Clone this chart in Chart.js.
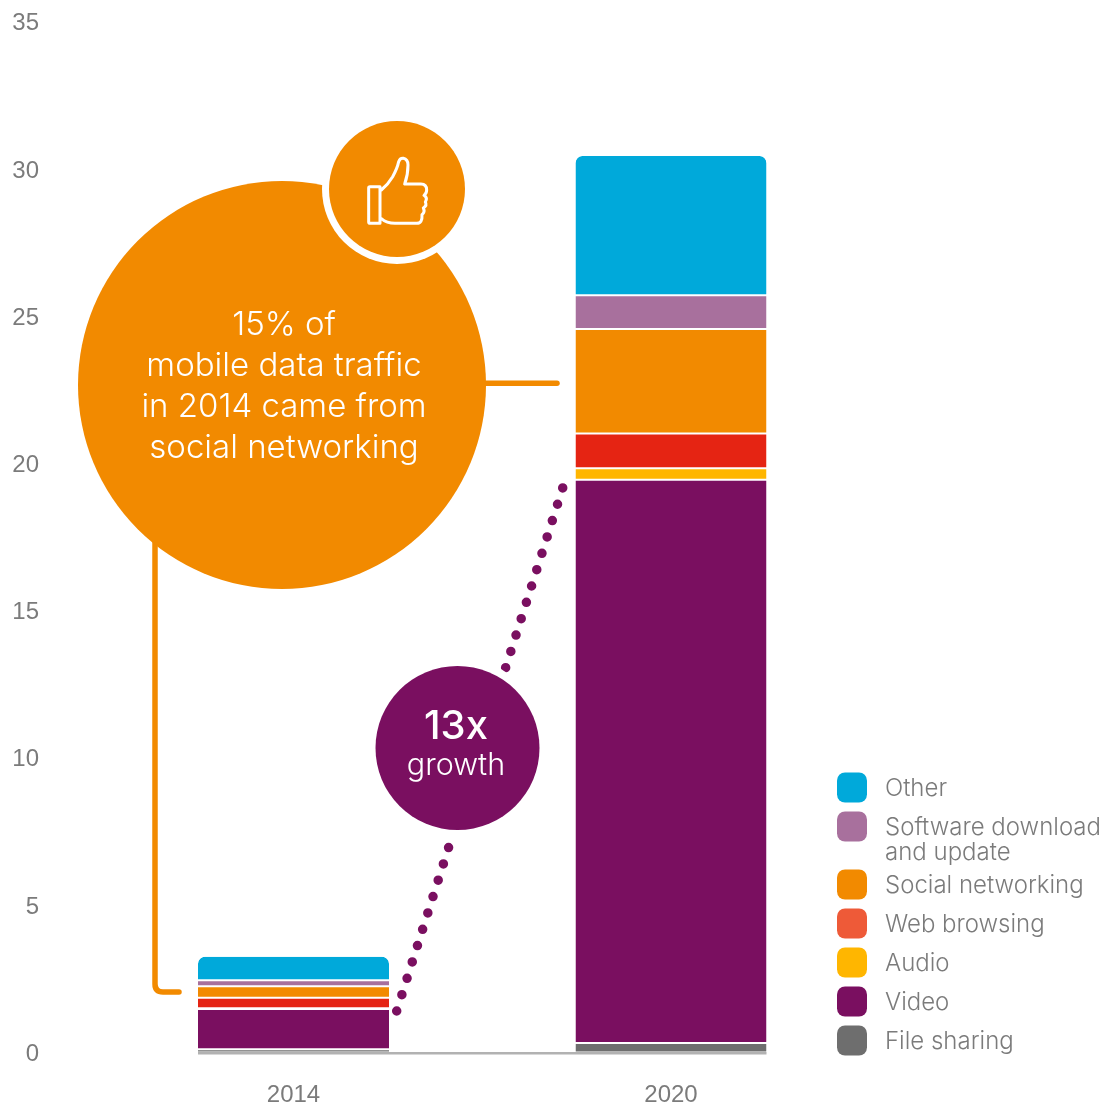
<!DOCTYPE html>
<html>
<head>
<meta charset="utf-8">
<title>Mobile data traffic by application</title>
<script src="https://cdn.jsdelivr.net/npm/chart.js@4/dist/chart.umd.min.js"></script>
<style>
  html, body { margin: 0; padding: 0; background: #fff; }
  canvas { display: block; }
</style>
</head>
<body>
<canvas id="traffic" width="1118" height="1108"></canvas>
<script>
// Monthly mobile data traffic by application type
const years = ['2014', '2020'];
const fileSharing = [0.11, 0.32];
const video       = [1.37, 19.13];
const audio       = [0.02, 0.39];
const webBrowsing = [0.36, 1.18];
const social      = [0.39, 3.55];
const software    = [0.20, 1.15];
const other       = [0.80, 4.73];
const yTicks = [0, 5, 10, 15, 20, 25, 30, 35];

const FONT = '"Liberation Sans", Arial, sans-serif';
const LIGHT_FONT = 'Inter, "Liberation Sans", sans-serif';
const GREY_TEXT = '#7b7b7b';
const ORANGE = '#f28a00';
const PURPLE = '#7a0f60';

function segment(label, data, color, swatch, isTop) {
  return {
    label, data, swatch,
    backgroundColor: color,
    borderColor: '#ffffff',
    borderWidth: { top: isTop ? 0 : 1, bottom: 1, left: 0, right: 0 },
    borderSkipped: false,
    borderRadius: isTop ? { topLeft: 7, topRight: 7, bottomLeft: 0, bottomRight: 0 } : 0,
    stack: 'traffic',
    categoryPercentage: 1,
    barPercentage: 0.506
  };
}

const datasets = [
  segment('File sharing', fileSharing, '#6e6e6e', '#6e6e6e'),
  segment('Video', video, PURPLE, PURPLE),
  segment('Audio', audio, '#ffb600', '#ffb600'),
  segment('Web browsing', webBrowsing, '#e52413', '#ee5a38'),
  segment('Social networking', social, ORANGE, ORANGE),
  segment('Software download\nand update', software, '#a8709d', '#a8709d'),
  segment('Other', other, '#00a9da', '#00a9da', true)
];

function roundedSquare(ctx, x, y, size, radius) {
  ctx.beginPath();
  ctx.roundRect(x, y, size, size, radius);
  ctx.fill();
}

function disc(ctx, x, y, r, color) {
  ctx.fillStyle = color;
  ctx.beginPath();
  ctx.arc(x, y, r, 0, Math.PI * 2);
  ctx.fill();
}

const callouts = {
  id: 'callouts',
  afterDatasetsDraw(chart) {
    const { ctx, scales: { y } } = chart;
    const bars = chart.getDatasetMeta(0).data;
    const halfBar = bars[0].width / 2;
    ctx.save();

    // Baseline running under both columns
    ctx.strokeStyle = '#b2b2b2';
    ctx.lineWidth = 2.6;
    ctx.beginPath();
    ctx.moveTo(bars[0].x - halfBar, y.getPixelForValue(0) + 0.8);
    ctx.lineTo(bars[1].x + halfBar, y.getPixelForValue(0) + 0.8);
    ctx.stroke();

    // Dotted growth line between the two columns
    ctx.strokeStyle = PURPLE;
    ctx.lineWidth = 9.5;
    ctx.lineCap = 'round';
    ctx.setLineDash([0, 17.15]);
    ctx.beginPath();
    ctx.moveTo(396.7, 1011);
    ctx.lineTo(563, 487);
    ctx.stroke();
    ctx.setLineDash([]);
    disc(ctx, 457.5, 748, 90, '#ffffff');
    disc(ctx, 457.5, 748, 82, PURPLE);

    // Orange leaders from the social networking segments to the large circle
    ctx.strokeStyle = ORANGE;
    ctx.lineWidth = 5.5;
    ctx.lineJoin = 'round';
    ctx.beginPath();
    ctx.moveTo(470, y.getPixelForValue(22.73));
    ctx.lineTo(557, y.getPixelForValue(22.73));
    ctx.stroke();
    const lowY = y.getPixelForValue(2.055);
    ctx.beginPath();
    ctx.moveTo(155, 500);
    ctx.lineTo(155, lowY - 8);
    ctx.quadraticCurveTo(155, lowY, 163, lowY);
    ctx.lineTo(179, lowY);
    ctx.stroke();

    disc(ctx, 282, 385, 204, ORANGE);
    disc(ctx, 397, 189, 75, '#ffffff');
    disc(ctx, 397, 189, 68, ORANGE);

    // Thumbs-up icon
    ctx.save();
    ctx.translate(320, 110);
    ctx.scale(1 / 3, 1 / 3);
    ctx.strokeStyle = '#ffffff';
    ctx.lineWidth = 9;
    ctx.lineJoin = 'round';
    ctx.stroke(new Path2D(
      'M150 230 H180 V340 H150 Q146 340 146 336 V234 Q146 230 150 230 Z ' +
      'M184 240 Q205 222 218 200 Q232 175 236 155 Q240 144 250 145 Q264 148 264 165 ' +
      'Q264 195 254 222 H303 Q320 222 320 240 Q320 250 312 256 Q324 264 316 276 ' +
      'Q322 286 310 294 Q316 306 306 314 Q308 340 290 340 H225 Q200 340 184 326'
    ));
    ctx.restore();

    // Callout wording
    ctx.fillStyle = '#ffffff';
    ctx.textAlign = 'center';
    ctx.textBaseline = 'middle';
    ctx.font = '300 33px ' + LIGHT_FONT;
    ['15% of', 'mobile data traffic', 'in 2014 came from', 'social networking']
      .forEach((line, i) => ctx.fillText(line, 284, 325 + i * 41));
    ctx.font = '500 40px ' + LIGHT_FONT;
    ctx.fillText('13x', 456, 727);
    ctx.font = '300 30.5px ' + LIGHT_FONT;
    ctx.fillText('growth', 456, 766);

    // Legend, top series first; a wrapped label pushes the next row down
    ctx.textAlign = 'left';
    let rowY = 787.5;
    for (let i = datasets.length - 1; i >= 0; i--) {
      const ds = datasets[i];
      const lines = ds.label.split('\n');
      ctx.fillStyle = ds.swatch;
      roundedSquare(ctx, 837, rowY - 15, 30, 8);
      ctx.fillStyle = GREY_TEXT;
      ctx.font = '300 24px ' + LIGHT_FONT;
      lines.forEach((line, k) => ctx.fillText(line, 885, rowY + 1 + k * 25));
      rowY += 39 + (lines.length - 1) * 19;
    }
    ctx.restore();
  }
};

new Chart(document.getElementById('traffic'), {
  type: 'bar',
  data: { labels: years, datasets },
  plugins: [callouts],
  options: {
    responsive: false,
    animation: false,
    devicePixelRatio: 1,
    layout: { padding: { top: 22, right: 258.25, bottom: 0, left: 0 } },
    plugins: {
      legend: { display: false },
      title: { display: false },
      tooltip: { enabled: false }
    },
    scales: {
      x: {
        stacked: true,
        grid: { display: false, drawTicks: true, tickLength: 27.7 },
        border: { display: false },
        ticks: { color: GREY_TEXT, font: { family: FONT, size: 24 }, padding: 0.5, maxRotation: 0 },
        afterFit(scale) { scale.height = 55.5; }
      },
      y: {
        stacked: true,
        min: 0,
        max: 35,
        afterBuildTicks(scale) { scale.ticks = yTicks.map(value => ({ value })); },
        grid: { display: false, drawTicks: true, tickLength: 65 },
        border: { display: false },
        ticks: { color: GREY_TEXT, font: { family: FONT, size: 24 }, padding: 0.75, labelOffset: 1.7 },
        afterFit(scale) { scale.width = 104.75; }
      }
    }
  }
});
</script>
</body>
</html>
